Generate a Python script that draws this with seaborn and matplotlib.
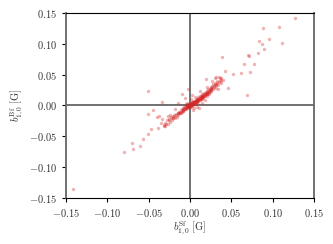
import matplotlib
matplotlib.use("Agg")
import matplotlib.pyplot as plt
import seaborn as sns
import pandas as pd

# b_{1,0} from the Sf and Bf fits
b_sf = [
    0.127, 0.0887, 0.108, 0.0838, 0.0956, 0.0867, 0.111, 0.0895, 0.0819, 0.0698,
    0.071, 0.0387, 0.0653, 0.0771, 0.0427, 0.0617, 0.0729, 0.0517, 0.0315, 0.0347,
    0.0299, 0.0363, 0.0194, 0.069, 0.046, 0.027, 0.038,
    -0.0512, -0.0342, -0.0444, -0.0512, -0.0395, -0.0371, -0.0342, -0.026, -0.024,
    -0.0258, -0.0355, -0.031, -0.029, -0.032, -0.030, -0.0383, -0.0468, -0.0512,
    -0.0569, -0.0698, -0.0694, -0.0605, -0.0794, -0.142,
    -0.030, -0.028, -0.027, -0.025, -0.024, -0.023, -0.022, -0.021, -0.020, -0.019,
    -0.018, -0.017, -0.016, -0.015, -0.014, -0.013, -0.012, -0.011, -0.010, -0.010,
    -0.009, -0.008, -0.008, -0.007, -0.006, -0.006, -0.005, -0.005, -0.004, -0.004,
    -0.003, -0.003, -0.002, -0.002, -0.001, -0.001, 0.000, 0.000, 0.000, 0.001,
    0.001, 0.002, 0.002, 0.002, 0.003, 0.003, 0.004, 0.004, 0.005, 0.005,
    0.005, 0.006, 0.006, 0.007, 0.007, 0.008, 0.008, 0.008, 0.009, 0.009,
    0.010, 0.010, 0.010, 0.011, 0.011, 0.012, 0.012, 0.012, 0.013, 0.013,
    0.014, 0.014, 0.015, 0.015, 0.015, 0.016, 0.016, 0.017, 0.017, 0.018,
    0.018, 0.019, 0.019, 0.020, 0.020, 0.021, 0.021, 0.022, 0.022, 0.023,
    0.023, 0.024, 0.024, 0.025, 0.025, 0.026, 0.026, 0.027, 0.028, 0.028,
    0.029, 0.030, 0.030, 0.031, 0.032, 0.033, 0.034, 0.034, 0.036, 0.037,
    -0.010, -0.002, -0.006, 0.003, 0.004, 0.008, 0.014, 0.018, -0.015, -0.018,
    0.001, 0.006, 0.020, 0.012,
]
b_bf = [
    0.141, 0.125, 0.127, 0.105, 0.107, 0.0992, 0.101, 0.0911, 0.0856, 0.0824,
    0.0803, 0.0782, 0.0678, 0.0678, 0.0555, 0.0532, 0.0543, 0.0506, 0.0467, 0.0467,
    0.0441, 0.0441, 0.043, 0.017, 0.028, 0.040, 0.042,
    0.024, 0.005, -0.0078, -0.0143, -0.0181, -0.0165, -0.0224, -0.017, -0.0149,
    -0.023, -0.0289, -0.032, -0.030, -0.034, -0.033, -0.036, -0.0376, -0.0467,
    -0.0543, -0.0608, -0.070, -0.0662, -0.0754, -0.136,
    -0.028, -0.024, -0.030, -0.022, -0.026, -0.019, -0.024, -0.017, -0.021, -0.016,
    -0.020, -0.014, -0.018, -0.012, -0.015, -0.010, -0.013, -0.008, -0.011, -0.006,
    -0.009, -0.004, -0.007, -0.002, -0.006, -0.001, -0.004, 0.002, -0.002, 0.004,
    -0.003, 0.001, -0.001, 0.003, 0.000, -0.003, 0.001, -0.002, 0.004, 0.000,
    0.003, 0.002, -0.001, 0.006, 0.003, 0.001, 0.005, 0.002, 0.004, 0.008,
    -0.004, 0.006, 0.003, 0.008, 0.005, 0.007, 0.011, 0.004, 0.009, 0.006,
    0.010, 0.013, 0.007, 0.011, -0.004, 0.012, 0.009, 0.016, 0.013, 0.010,
    0.015, 0.012, 0.014, 0.018, 0.011, 0.016, 0.013, 0.017, 0.020, 0.015,
    0.019, 0.018, 0.022, 0.020, 0.016, 0.023, 0.019, 0.021, 0.026, 0.024,
    0.019, 0.027, 0.022, 0.025, 0.030, 0.028, 0.023, 0.031, 0.027, 0.034,
    0.030, 0.033, 0.037, 0.029, 0.035, 0.039, 0.033, 0.026, 0.040, 0.036,
    0.018, 0.026, 0.012, 0.017, -0.008, -0.003, 0.004, 0.009, 0.004, -0.006,
    0.010, 0.014, 0.030, 0.024,
]
# extra points in the dense core near the origin
core_sf = [
    -0.022, -0.019, -0.017, -0.015, -0.013, -0.012, -0.011, -0.009, -0.008, -0.007,
    -0.006, -0.005, -0.004, -0.003, -0.003, -0.002, -0.002, -0.001, -0.001, 0.000,
    0.000, 0.000, 0.001, 0.001, 0.001, 0.002, 0.002, 0.003, 0.003, 0.004,
    0.004, 0.005, 0.005, 0.006, 0.006, 0.007, 0.007, 0.008, 0.009, 0.009,
    0.010, 0.011, 0.011, 0.012, 0.013, 0.013, 0.014, 0.015, 0.016, 0.016,
    0.017, 0.018, 0.019, 0.020, 0.021, 0.022, 0.023, 0.024, 0.026, 0.027,
    0.029, 0.031, 0.033, 0.035, 0.038, 0.040,
]
core_bf = [
    -0.020, -0.018, -0.016, -0.013, -0.012, -0.010, -0.012, -0.008, -0.009, -0.005,
    -0.004, -0.006, -0.003, -0.001, -0.004, 0.001, -0.002, 0.002, -0.001, 0.000,
    0.002, -0.001, 0.001, -0.002, 0.002, 0.001, 0.004, 0.002, 0.005, 0.003,
    0.006, 0.005, 0.003, 0.007, 0.005, 0.006, 0.009, 0.009, 0.008, 0.011,
    0.009, 0.012, 0.009, 0.011, 0.012, 0.015, 0.013, 0.016, 0.014, 0.018,
    0.016, 0.017, 0.020, 0.018, 0.021, 0.023, 0.022, 0.025, 0.027, 0.029,
    0.032, 0.033, 0.036, 0.038, 0.044, 0.041,
]
ticks = [-0.15, -0.10, -0.05, 0.00, 0.05, 0.10, 0.15]

df = pd.DataFrame({"sf": b_sf + core_sf, "bf": b_bf + core_bf})

sns.set_style("ticks")
plt.rcParams["mathtext.fontset"] = "cm"
plt.rcParams["font.family"] = ["DejaVu Serif"]

fig = plt.figure(figsize=(3.33, 2.44), dpi=100)
ax = fig.add_axes([0.198, 0.1885, 0.745, 0.7585])

ax.axhline(0, color="#666666", lw=1.3, zorder=1)
ax.axvline(0, color="#666666", lw=1.3, zorder=1)
sns.scatterplot(data=df, x="sf", y="bf", ax=ax, color="#d62728", alpha=0.35,
                s=6, linewidth=0, zorder=2)

ax.set_xlim(-0.15, 0.15)
ax.set_ylim(-0.15, 0.15)
ax.set_xticks(ticks)
ax.set_yticks(ticks)
labels = [r"$%.2f$" % t if t != 0 else r"$0.00$" for t in ticks]
ax.set_xticklabels(labels)
ax.set_yticklabels(labels)
ax.tick_params(labelsize=7.5, length=3, width=0.8, colors="black", labelcolor="#333333")

for side in ["left", "right"]:
    ax.spines[side].set_color("#666666")
    ax.spines[side].set_linewidth(1.3)
for side in ["top", "bottom"]:
    ax.spines[side].set_color("black")
    ax.spines[side].set_linewidth(0.8)

ax.set_xlabel(r"$b_{1,0}^{\mathrm{Sf}}\ [\mathrm{G}]$", fontsize=7.5, color="#333333", labelpad=1)
ax.set_ylabel(r"$b_{1,0}^{\mathrm{Bf}}\ [\mathrm{G}]$", fontsize=7.5, color="#333333", labelpad=2)

fig.savefig("out.png", dpi=100)
